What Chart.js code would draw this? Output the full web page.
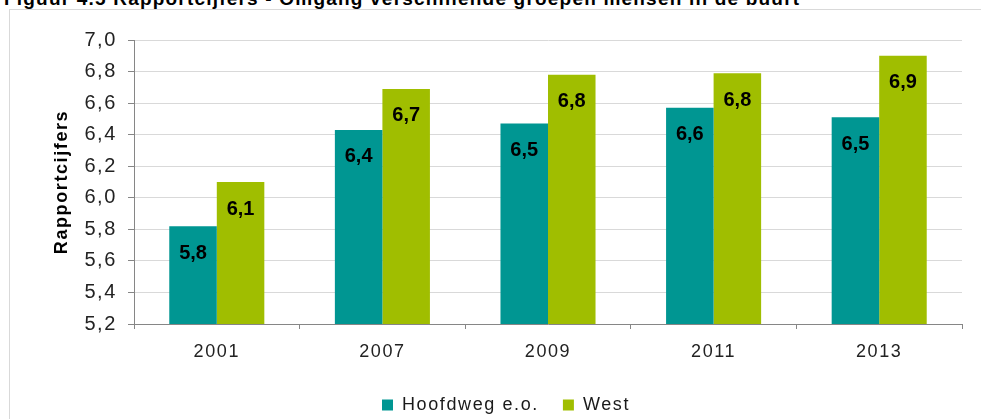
<!DOCTYPE html>
<html>
<head>
<meta charset="utf-8">
<script src="https://cdn.jsdelivr.net/npm/chart.js@4.4.0/dist/chart.umd.min.js"></script>
<style>
  html, body { margin: 0; padding: 0; background: #fff; }
  #wrap { position: relative; width: 981px; height: 419px; overflow: hidden; }
  #title { position: absolute; left: 4px; top: -11px; font: bold 19px "Liberation Sans", Arial, sans-serif; letter-spacing: 1.2px; line-height: 19px; color: #000; white-space: nowrap; }
  #frame { position: absolute; left: 9px; top: 9px; width: 990px; height: 430px; border: 1px solid #d9d9d9; box-sizing: border-box; }
  canvas { position: absolute; left: 0; top: 0; }
</style>
</head>
<body>
<div id="wrap">
  <div id="title">Figuur 4.5 Rapportcijfers - Omgang verschillende groepen mensen in de buurt</div>
  <div id="frame"></div>
  <canvas id="c" width="981" height="419"></canvas>
</div>
<script>
const categories = ['2001', '2007', '2009', '2011', '2013'];
const hoofdweg = [5.82, 6.43, 6.47, 6.57, 6.51];
const west = [6.10, 6.69, 6.78, 6.79, 6.90];
const seriesNames = ['Hoofdweg e.o.', 'West'];
const yMin = 5.2, yMax = 7.0, yStep = 0.2;

const FONT = '"Liberation Sans", Arial, sans-serif';

const spacing = {
  id: 'spacing',
  beforeUpdate(chart) { chart.ctx.letterSpacing = '1.6px'; },
  beforeLayout(chart) { chart.ctx.letterSpacing = '1.6px'; },
  afterLayout(chart) {
    if (chart.legend) { chart.legend.left += 25; chart.legend.right += 25; }
  },
  beforeDraw(chart) { chart.ctx.letterSpacing = '1.6px'; }
};

const valueLabels = {
  id: 'valueLabels',
  afterDatasetsDraw(chart) {
    const ctx = chart.ctx;
    ctx.save();
    ctx.letterSpacing = '0px';
    ctx.font = 'bold 20px ' + FONT;
    ctx.fillStyle = '#000';
    ctx.textAlign = 'center';
    ctx.textBaseline = 'middle';
    chart.data.datasets.forEach((ds, i) => {
      chart.getDatasetMeta(i).data.forEach((bar, j) => {
        const t = ds.data[j].toFixed(1).replace('.', ',');
        ctx.fillText(t, bar.x, bar.y + 27);
      });
    });
    ctx.restore();
  }
};

new Chart(document.getElementById('c'), {
  type: 'bar',
  data: {
    labels: categories,
    datasets: [
      { label: seriesNames[0], data: hoofdweg, backgroundColor: '#009692' },
      { label: seriesNames[1], data: west, backgroundColor: '#A0BE00' }
    ]
  },
  options: {
    responsive: false,
    animation: false,
    devicePixelRatio: 1,
    datasets: { bar: { categoryPercentage: 0.574, barPercentage: 1.0 } },
    layout: { padding: { top: 40, right: 19, bottom: -5, left: 0 } },
    plugins: {
      legend: {
        position: 'bottom',
        labels: {
          boxWidth: 11, boxHeight: 11, padding: 24,
          color: '#1a1a1a',
          font: { family: FONT, size: 18 }
        }
      },
      tooltip: { enabled: false }
    },
    scales: {
      x: {
        grid: { offset: true, drawOnChartArea: false, drawTicks: true, tickLength: 5, color: '#868686' },
        border: { color: '#868686' },
        ticks: { color: '#222', padding: 12, font: { family: FONT, size: 18 } },
        afterFit(s) { s.height = 48; }
      },
      y: {
        min: yMin, max: yMax,
        grid: { color: '#d9d9d9', tickColor: '#868686', tickLength: 6 },
        border: { color: '#868686' },
        ticks: {
          stepSize: yStep, padding: 11, color: '#222',
          font: { family: FONT, size: 20 },
          callback: v => v.toFixed(1).replace('.', ',')
        },
        title: {
          display: true, text: 'Rapportcijfers', color: '#000',
          font: { family: FONT, size: 18, weight: 'bold' },
          padding: { top: 51, bottom: 0 }
        },
        afterFit(s) { s.width = 134; }
      }
    }
  },
  plugins: [spacing, valueLabels]
});
</script>
</body>
</html>
